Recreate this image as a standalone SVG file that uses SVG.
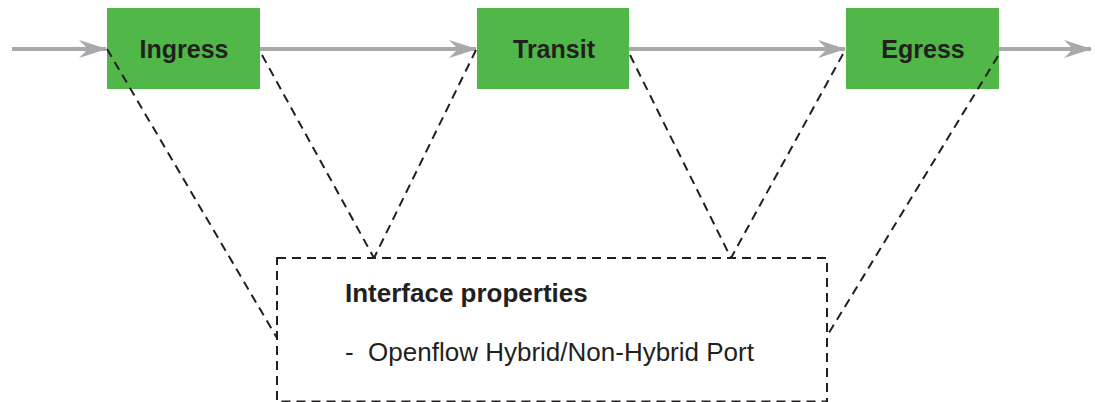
<svg xmlns="http://www.w3.org/2000/svg" width="1095" height="402" viewBox="0 0 1095 402">
<defs>
<marker id="ah" viewBox="0 0 28 18" refX="27" refY="9" markerWidth="28" markerHeight="18" markerUnits="userSpaceOnUse" orient="auto">
<path d="M0,0 L28,9 L0,18 L9,9 Z" fill="#a7a9ac"/>
</marker>
<style>
.node{fill:#50b748;}
.lbl{font-family:"Liberation Sans",Arial,sans-serif;font-size:25px;font-weight:bold;fill:#231f20;text-anchor:middle;}
.flow{stroke:#a7a9ac;stroke-width:4;fill:none;}
.dash{stroke:#231f20;stroke-width:2;stroke-dasharray:9,6;fill:none;}
.txt{font-family:"Liberation Sans",Arial,sans-serif;font-size:26px;fill:#231f20;}
</style>
</defs>
<rect width="1095" height="402" fill="#ffffff"/>
<g id="ingress">
<rect class="node" x="107" y="8" width="153" height="81"/>
<text class="lbl" x="184" y="58">Ingress</text>
</g>
<g id="transit">
<rect class="node" x="477" y="8" width="152" height="81"/>
<text class="lbl" x="554" y="58">Transit</text>
</g>
<g id="egress">
<rect class="node" x="846" y="8" width="153" height="81"/>
<text class="lbl" x="923" y="58">Egress</text>
</g>
<g id="interface-properties">
<rect class="dash" x="277" y="258" width="550" height="143.5"/>
<text class="txt" x="345" y="302" font-weight="bold">Interface properties</text>
<text class="txt" x="345" y="361" xml:space="preserve">-  Openflow Hybrid/Non-Hybrid Port</text>
</g>
<g id="connectors">
<line class="flow" x1="12" y1="49" x2="106" y2="49" marker-end="url(#ah)"/>
<line class="flow" x1="260" y1="49" x2="476" y2="49" marker-end="url(#ah)"/>
<line class="flow" x1="629" y1="49" x2="845" y2="49" marker-end="url(#ah)"/>
<line class="flow" x1="999" y1="49" x2="1091" y2="49" marker-end="url(#ah)"/>
<line class="dash" x1="107" y1="49" x2="277" y2="338"/>
<line class="dash" x1="262" y1="55" x2="374" y2="258"/>
<line class="dash" x1="476" y1="50" x2="374" y2="258"/>
<line class="dash" x1="630" y1="55" x2="731" y2="258"/>
<line class="dash" x1="843" y1="54" x2="731" y2="258"/>
<line class="dash" x1="998" y1="56" x2="827" y2="336"/>
</g>
</svg>
